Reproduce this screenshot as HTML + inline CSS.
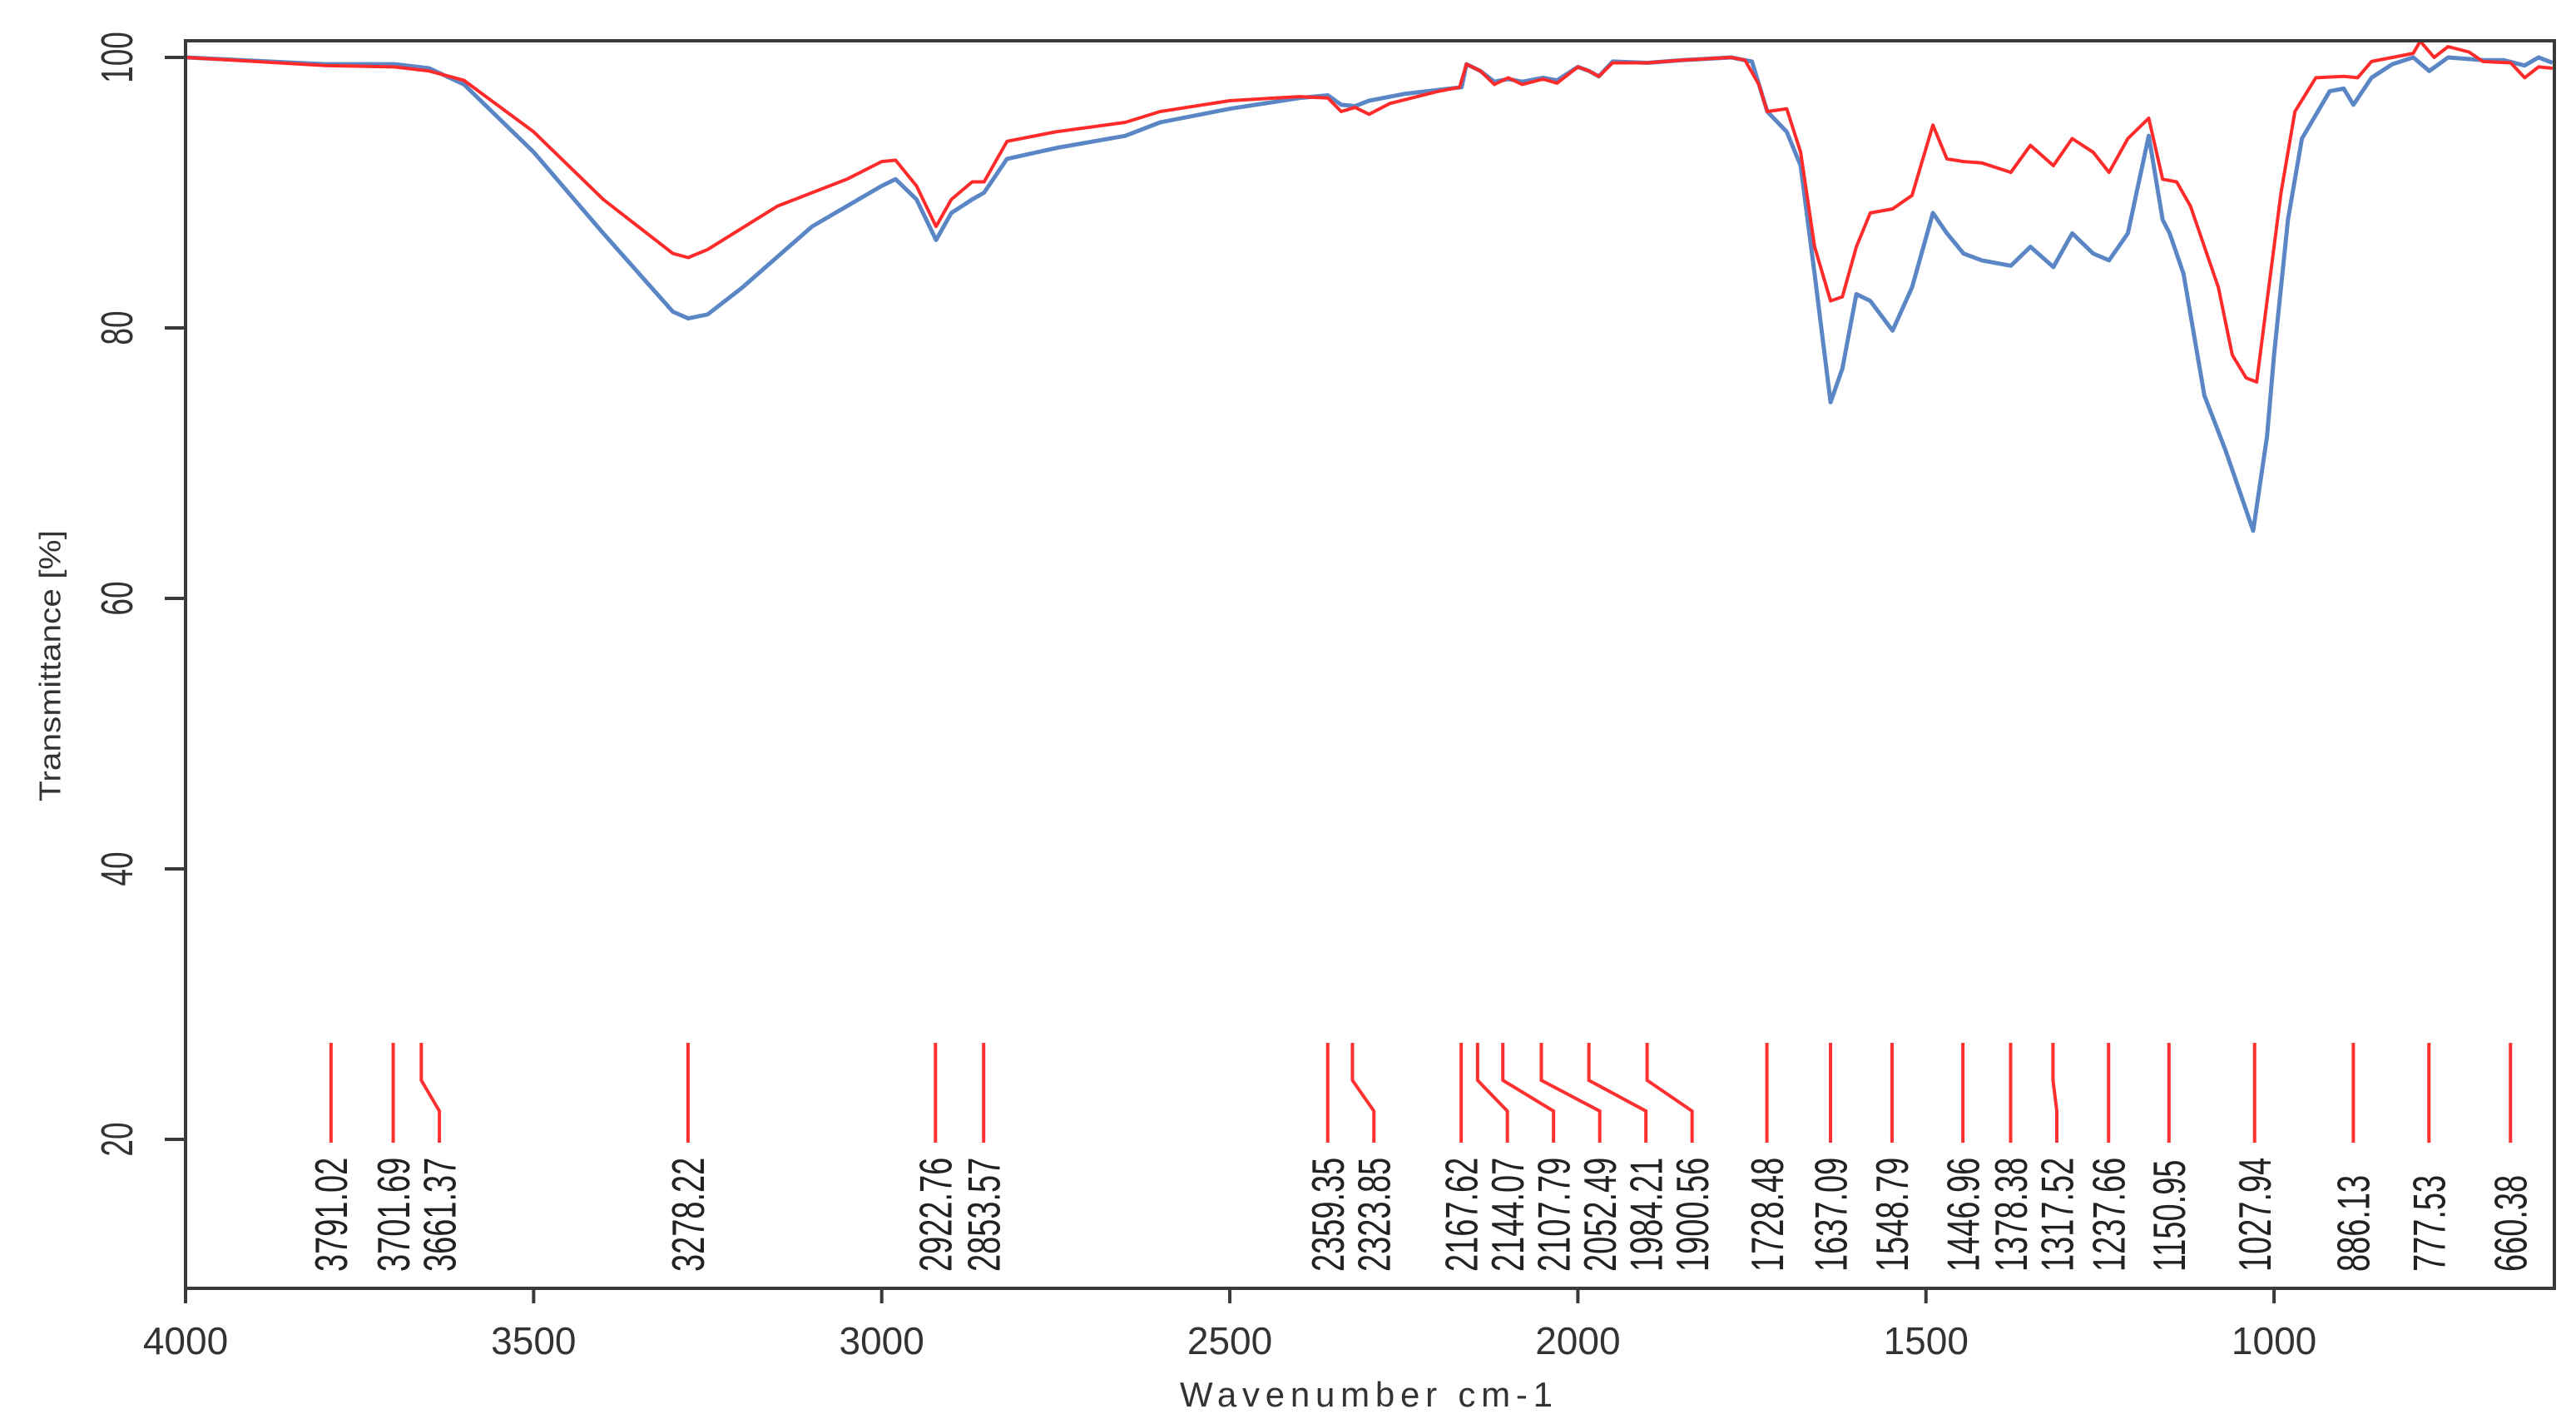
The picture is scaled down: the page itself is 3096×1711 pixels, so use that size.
<!DOCTYPE html>
<html><head><meta charset="utf-8">
<style>
html,body{margin:0;padding:0;background:#fff;}
svg{display:block;}
</style></head>
<body>
<svg id="chart" width="3096" height="1711" viewBox="0 0 3096 1711" xmlns="http://www.w3.org/2000/svg" font-family="'Liberation Sans', sans-serif">
<rect width="3096" height="1711" fill="#fff"/>
<g id="plot"></g>
</svg>
<script>
// ---- data ----
const xTicks = [4000, 3500, 3000, 2500, 2000, 1500, 1000];
const yTicks = [20, 40, 60, 80, 100];
const blueWn = [4000,3800,3700,3650,3600,3500,3400,3300,3278,3250,3200,3100,3000,2980,2950,2922,2900,2870,2853,2820,2750,2650,2600,2500,2400,2359,2340,2320,2300,2250,2200,2167,2160,2140,2120,2100,2080,2050,2030,2000,1984,1970,1950,1900,1850,1780,1750,1728,1700,1680,1660,1637,1620,1600,1580,1548,1520,1490,1470,1446,1420,1378,1350,1317,1290,1260,1237,1210,1180,1160,1150,1130,1100,1070,1050,1030,1010,1000,980,960,920,900,886,860,830,800,777,750,700,670,640,620,600];
const blueT = [100,99.5,99.5,99.2,98,93,87,81.2,80.7,81,83,87.5,90.5,91,89.5,86.5,88.5,89.5,90,92.5,93.3,94.2,95.2,96.2,97,97.2,96.5,96.4,96.8,97.3,97.6,97.8,99.5,99,98.2,98.4,98.2,98.5,98.3,99.3,99,98.6,99.7,99.6,99.8,100,99.7,96,94.5,92,84,74.5,77,82.5,82,79.8,83,88.5,87,85.5,85,84.6,86,84.5,87,85.5,85,87,94.2,88,87,84,75,71,68,65,72,78,88,94,97.5,97.7,96.5,98.5,99.5,100,99,100,99.8,99.8,99.4,100,99.6];
const redWn = [4000,3800,3700,3650,3600,3500,3400,3300,3278,3250,3150,3050,3000,2980,2950,2922,2900,2870,2853,2820,2750,2650,2600,2500,2400,2359,2340,2320,2300,2270,2200,2170,2160,2140,2120,2100,2080,2050,2030,2000,1984,1970,1950,1900,1850,1780,1760,1740,1728,1700,1680,1660,1637,1620,1600,1580,1548,1520,1490,1470,1446,1420,1378,1350,1317,1290,1260,1237,1210,1180,1160,1140,1120,1100,1080,1060,1040,1025,1010,990,970,940,900,880,860,830,800,790,770,750,720,700,660,640,620,600];
const redT = [100,99.4,99.3,99,98.3,94.5,89.5,85.5,85.2,85.8,89,91,92.3,92.4,90.5,87.5,89.5,90.8,90.8,93.8,94.5,95.2,96,96.8,97.1,97,96,96.3,95.8,96.6,97.5,97.8,99.5,99,98,98.5,98,98.4,98.1,99.3,99,98.6,99.6,99.6,99.8,100,99.8,98,96,96.2,93,86,82,82.3,86,88.5,88.8,89.8,95,92.5,92.3,92.2,91.5,93.5,92,94,93,91.5,94,95.5,91,90.8,89,86,83,78,76.3,76,82,90,96,98.5,98.6,98.5,99.7,100,100.3,101.2,100,100.8,100.4,99.7,99.6,98.5,99.3,99.2];
const peakWn = [3791.02,3701.69,3661.37,3278.22,2922.76,2853.57,2359.35,2323.85,2167.62,2144.07,2107.79,2052.49,1984.21,1900.56,1728.48,1637.09,1548.79,1446.96,1378.38,1317.52,1237.66,1150.95,1027.94,886.13,777.53,660.38];

// ---- geometry ----
const L=223, R=3070, T0=49, B=1548;
const xs = wn => L + (4000 - wn) * 0.8367;
const ys = t => 69 + (100 - t) * 16.25;
const NS='http://www.w3.org/2000/svg';
const g = document.getElementById('plot');
function mk(tag, attrs){const e=document.createElementNS(NS,tag);for(const k in attrs)e.setAttribute(k,attrs[k]);g.appendChild(e);return e;}

// curves
function curve(wn, tv, color, w, name){
  let d='';
  for(let i=0;i<wn.length;i++){d+=(i?'L':'M')+xs(wn[i]).toFixed(1)+' '+ys(tv[i]).toFixed(1);}
  const p=mk('path',{d:d,fill:'none',stroke:color,'stroke-width':w,'stroke-linejoin':'round'});
  
  
}
curve(blueWn, blueT, '#5a86c6', 5, 'series-blue');
curve(redWn, redT, '#ff2a2a', 4, 'series-red');

// peak markers
let prev=-1e9;
const gap=55.5;
for(let i=0;i<peakWn.length;i++){
  const ax=xs(peakWn[i]);
  const lx=Math.max(ax, prev+gap);
  prev=lx;
  const p=mk('path',{d:`M${ax} 1253 L${ax} 1298 L${lx} 1335 L${lx} 1373`,fill:'none',stroke:'#ff3030','stroke-width':4});
  
  
  const t=mk('text',{transform:`translate(${lx},1528) scale(1.45,1) rotate(-90)`,'font-size':38,fill:'#222',dy:'0.35em'});
  t.textContent=peakWn[i].toFixed(2).replace(/0$/,'').replace(/\.(\d)$/,'.$10');
  t.textContent=String(peakWn[i].toFixed(2));
  
  
}

// frame
const fr=mk('rect',{x:L,y:T0,width:R-L,height:B-T0,fill:'none',stroke:'#3a3a3a','stroke-width':4});



// x ticks
for(const v of xTicks){
  const x=xs(v);
  const tk=mk('line',{x1:x,y1:B,x2:x,y2:1566,stroke:'#3a3a3a','stroke-width':4});
  
  
  const t=mk('text',{x:x,y:1627,'font-size':46,'text-anchor':'middle',fill:'#333'});
  t.textContent=v;
  
  
}
// y ticks
for(const v of yTicks){
  const y=ys(v);
  const tk=mk('line',{x1:L,y1:y,x2:198,y2:y,stroke:'#3a3a3a','stroke-width':4});
  
  
  const t=mk('text',{transform:`translate(140,${y}) scale(1.45,1) rotate(-90)`,'font-size':37,'text-anchor':'middle',fill:'#333',dy:'0.35em'});
  t.textContent=v;
  
  
}
// titles
const yt=mk('text',{transform:'translate(60,800) rotate(-90)','font-size':36,'text-anchor':'middle',fill:'#333',dy:'0.35em',textLength:326,lengthAdjust:'spacingAndGlyphs'});
yt.textContent='Transmittance [%]';


const xt=mk('text',{x:1642,y:1690,'font-size':42,'text-anchor':'middle',fill:'#333',textLength:448,lengthAdjust:'spacing'});
xt.textContent='Wavenumber cm-1';


</script>
</body></html>
